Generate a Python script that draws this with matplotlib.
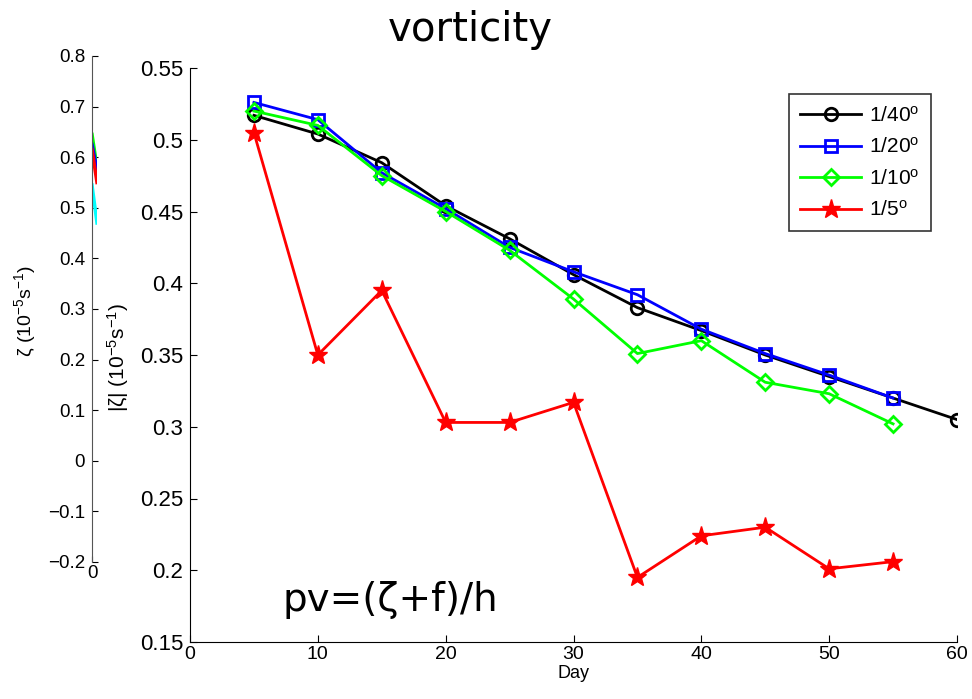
import matplotlib.pyplot as plt

plt.rcParams['font.family'] = ['Liberation Sans', 'DejaVu Sans']
plt.rcParams['mathtext.fontset'] = 'custom'
plt.rcParams['mathtext.rm'] = 'Liberation Sans'
plt.rcParams['mathtext.it'] = 'Liberation Sans:italic'

days = [5, 10, 15, 20, 25, 30, 35, 40, 45, 50, 55, 60]
res40 = [0.517, 0.504, 0.484, 0.454, 0.431, 0.406, 0.383, 0.367, 0.350, 0.335, 0.320, 0.305]
res20 = [0.526, 0.514, 0.477, 0.452, 0.425, 0.408, 0.392, 0.368, 0.351, 0.336, 0.320]
res10 = [0.520, 0.510, 0.475, 0.450, 0.423, 0.389, 0.351, 0.360, 0.331, 0.323, 0.302]
res5 = [0.505, 0.350, 0.395, 0.303, 0.303, 0.317, 0.195, 0.224, 0.230, 0.201, 0.206]

# left (signed zeta) panel, only the first bit of each curve shows
left_x = [0, 1]
left_green = [0.645, 0.58]
left_blue = [0.625, 0.575]
left_red = [0.615, 0.55]
left_cyan = [0.545, 0.47]

fig = plt.figure(figsize=(9.72, 6.99), dpi=100)

axl = fig.add_axes([92/972, 1-562/699, 5/972, 506/699])
axl.plot(left_x, left_green, color='#00ff00', lw=2.5)
axl.plot(left_x, left_blue, color='blue', lw=2.5)
axl.plot(left_x, left_red, color='red', lw=2.5)
axl.plot(left_x, left_cyan, color='cyan', lw=2.5)
axl.set_xlim(0, 1)
axl.set_ylim(-0.2, 0.8)
axl.set_xticks([0])
axl.set_yticks([-0.2, -0.1, 0, 0.1, 0.2, 0.3, 0.4, 0.5, 0.6, 0.7, 0.8])
axl.set_yticklabels(['\u22120.2', '\u22120.1', '0', '0.1', '0.2', '0.3', '0.4', '0.5', '0.6', '0.7', '0.8'])
for s in ['top', 'right', 'bottom']:
    axl.spines[s].set_visible(False)
axl.spines['left'].set_color('#555555')
axl.tick_params(direction='in', length=4, labelsize=13.5, pad=5)
axl.tick_params(axis='x', pad=2)

ax = fig.add_axes([190/972, 1-642/699, 767/972, 574/699])
ax.plot(days, res40, color='black', lw=2, marker='o', ms=9, mfc='none', mew=2, label='1/40$^{\\rm o}$')
ax.plot(days[:11], res20, color='blue', lw=2, marker='s', ms=8, mfc='none', mew=2, label='1/20$^{\\rm o}$')
ax.plot(days[:11], res10, color='#00ff00', lw=2, marker='D', ms=8, mfc='none', mew=2, label='1/10$^{\\rm o}$')
ax.plot(days[:11], res5, color='red', lw=2, marker='*', ms=14, mfc='red', mew=1, label='1/5$^{\\rm o}$')
ax.set_xlim(0, 60)
ax.set_ylim(0.15, 0.55)
ax.set_xticks(range(0, 61, 10))
ax.set_yticks([0.15, 0.2, 0.25, 0.3, 0.35, 0.4, 0.45, 0.5, 0.55])
ax.set_yticklabels(['0.15', '0.2', '0.25', '0.3', '0.35', '0.4', '0.45', '0.5', '0.55'])
ax.spines['top'].set_visible(False)
ax.spines['right'].set_visible(False)
ax.tick_params(direction='in', length=5)
ax.tick_params(axis='y', labelsize=16, pad=5)
ax.tick_params(axis='x', labelsize=14, pad=3)
ax.set_xlabel('Day', fontsize=13, labelpad=1)
leg = ax.legend(loc='upper right', bbox_to_anchor=(741/767, 548/574), borderaxespad=0,
                fontsize=15, frameon=True, fancybox=False, edgecolor='black',
                handlelength=2.9, handletextpad=0.4, borderpad=0.55, labelspacing=0.55)
leg.get_frame().set_linewidth(1.2)

fig.text(25/972, 1-311/699, '\u03b6 (10$^{-5}$s$^{-1}$)', fontsize=14, rotation=90, ha='center', va='center')
fig.text(118/972, 1-358/699, '|\u03b6| (10$^{-5}$s$^{-1}$)', fontsize=15, rotation=90, ha='center', va='center')
fig.text(470/972, 1-30/699, 'vorticity', fontsize=29, family='DejaVu Sans', ha='center', va='center')
fig.text(282/972, 1-600/699, 'pv=(\u03b6+f)/h', fontsize=28, family='DejaVu Sans', ha='left', va='center')

fig.savefig('out.png', dpi=100)
